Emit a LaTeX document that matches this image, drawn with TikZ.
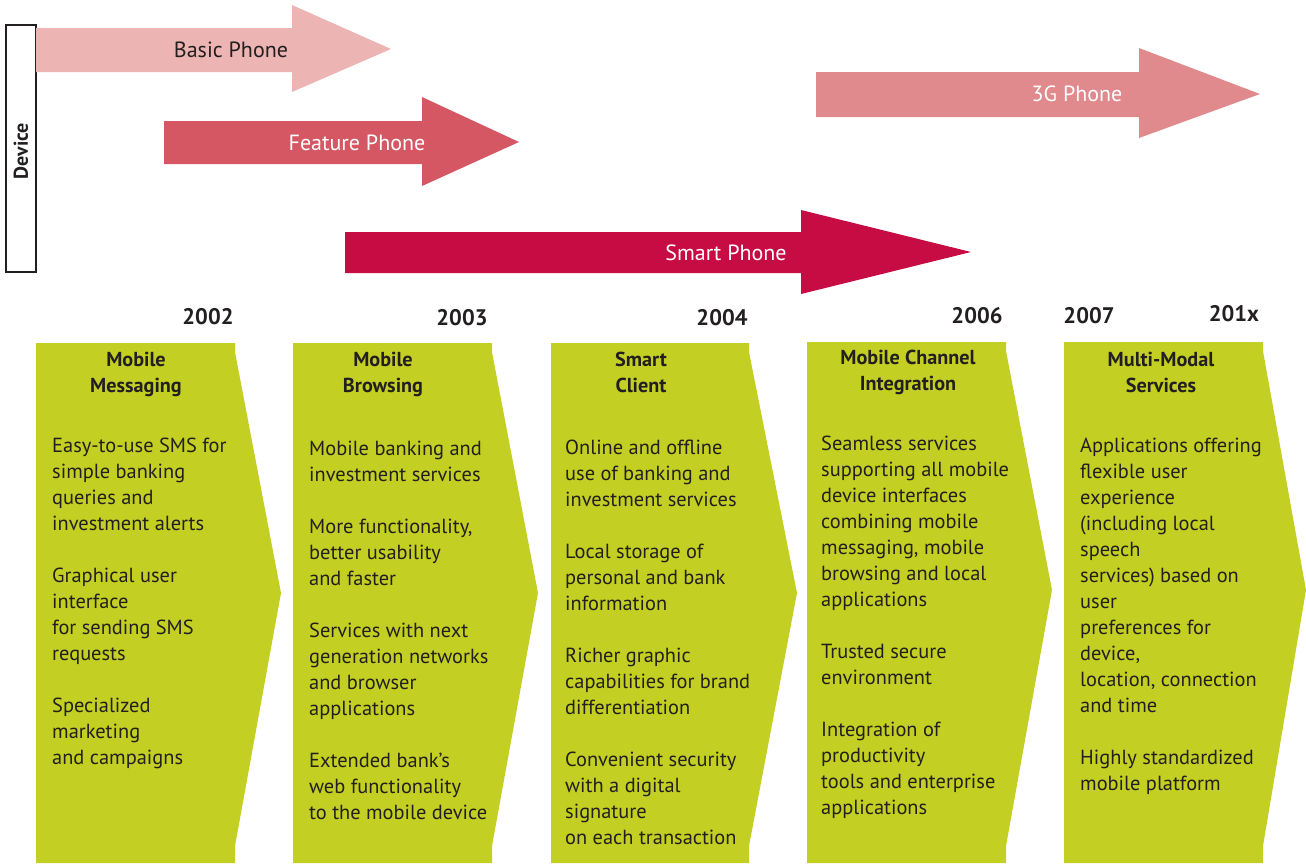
\documentclass[tikz,border=0pt]{standalone}
\usepackage{fontspec}
\setmainfont{PT Sans}
\definecolor{txt}{HTML}{231F20}
\definecolor{basicc}{HTML}{ECB4B3}
\definecolor{featc}{HTML}{D45763}
\definecolor{smartc}{HTML}{C70C44}
\definecolor{threegc}{HTML}{E08A8E}
\definecolor{greenc}{HTML}{C3CF22}
\tikzset{
  body/.style={anchor=north west, align=left, inner sep=0pt, font=\fontsize{20.4}{26}\selectfont, text=txt},
  title/.style={anchor=north, align=center, inner sep=0pt, font=\bfseries\fontsize{20.2}{26}\selectfont, text=txt},
  year/.style={inner sep=0pt, font=\bfseries\fontsize{22.5}{24}\selectfont, text=txt},
  arrlabel/.style={inner sep=0pt, font=\fontsize{22}{24}\selectfont},
  chevron/.style={fill=greenc, draw=none}
}
\begin{document}
\begin{tikzpicture}[x=1pt,y=-1pt]
\useasboundingbox (0,0) rectangle (1306,863);
% device box
\draw[line width=1.6pt, draw=txt] (6,25) rectangle (36,272);
\node[rotate=90, inner sep=0pt, font=\bfseries\fontsize{20}{22}\selectfont, text=txt] (dev) at (21,151) {Device};
% arrows
\fill[basicc] (36,28) -- (292,28) -- (292,5) -- (391,49) -- (292,92) -- (292,72) -- (36,72) -- cycle;
\node[arrlabel, text=txt] (basic) at (231,50) {Basic Phone};
\fill[featc] (164,121) -- (422,121) -- (422,97) -- (519,142) -- (422,186) -- (422,164) -- (164,164) -- cycle;
\node[arrlabel, text=white] (feat) at (357,143) {Feature Phone};
\fill[smartc] (345,232) -- (801,232) -- (801,210) -- (971,252) -- (801,294) -- (801,273) -- (345,273) -- cycle;
\node[arrlabel, text=white] (smart) at (726,253) {Smart Phone};
\fill[threegc] (816,72) -- (1139,72) -- (1139,48) -- (1260,94) -- (1139,138) -- (1139,117) -- (816,117) -- cycle;
\node[arrlabel, text=white] (threeg) at (1077,94) {3G Phone};
% years
\node[year] (y1) at (208,317) {2002};
\node[year] (y2) at (462,318) {2003};
\node[year] (y3) at (722,318) {2004};
\node[year] (y4) at (977,316) {2006};
\node[year] (y5) at (1089,316) {2007};
\node[year] (y6) at (1234,314) {201x};
% chevrons
\fill[chevron] (36,343) -- (235,343) -- (235,352) -- (281,593) -- (235,846) -- (235,863) -- (36,863) -- cycle;
\fill[chevron] (293,343) -- (492,343) -- (492,352) -- (538,593) -- (492,846) -- (492,863) -- (293,863) -- cycle;
\fill[chevron] (551,343) -- (749,343) -- (749,352) -- (797,593) -- (749,846) -- (749,863) -- (551,863) -- cycle;
\fill[chevron] (807,342) -- (1006,342) -- (1006,351) -- (1052,590) -- (1006,846) -- (1006,863) -- (807,863) -- cycle;
\fill[chevron] (1064,342) -- (1263,342) -- (1263,351) -- (1306,590) -- (1263,846) -- (1263,863) -- (1064,863) -- cycle;
% titles
\node[title] (t1) at (136,352) {Mobile\\Messaging};
\node[title] (t2) at (383,352) {Mobile\\Browsing};
\node[title] (t3) at (641,352) {Smart\\Client};
\node[title] (t4) at (908,350) {Mobile Channel\\Integration};
\node[title] (t5) at (1161,352) {Multi-Modal\\Services};
% bodies
\node[body] (b1) at (52,438) {Easy-to-use SMS for\\simple banking\\queries and\\investment alerts\\[26pt]Graphical user\\interface\\for sending SMS\\requests\\[26pt]Specialized\\marketing\\and campaigns};
\node[body] (b2) at (309,441) {Mobile banking and\\investment services\\[26pt]More functionality,\\better usability\\and faster\\[26pt]Services with next\\generation networks\\and browser\\applications\\[26pt]Extended bank's\\web functionality\\to the mobile device};
\node[body] (b3) at (565,440) {Online and offline\\use of banking and\\investment services\\[26pt]Local storage of\\personal and bank\\information\\[26pt]Richer graphic\\capabilities for brand\\differentiation\\[26pt]Convenient security\\with a digital\\signature\\on each transaction};
\node[body] (b4) at (821,436) {Seamless services\\supporting all mobile\\device interfaces\\combining mobile\\messaging, mobile\\browsing and local\\applications\\[26pt]Trusted secure\\environment\\[26pt]Integration of\\productivity\\tools and enterprise\\applications};
\node[body] (b5) at (1080,438) {Applications offering\\flexible user\\experience\\(including local\\speech\\services) based on\\user\\preferences for\\device,\\location, connection\\and time\\[26pt]Highly standardized\\mobile platform};
\end{tikzpicture}
\end{document}
